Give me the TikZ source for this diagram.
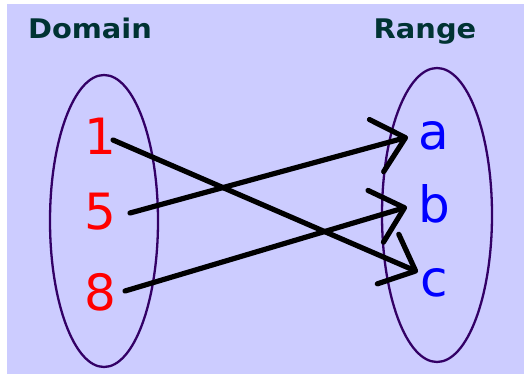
\documentclass[tikz,border=0pt]{standalone}
\usepackage{fontspec}
\setmainfont{DejaVu Sans}
\usetikzlibrary{arrows.meta}
\definecolor{lav}{HTML}{CCCCFF}
\definecolor{ring}{HTML}{330066}
\definecolor{headc}{HTML}{003333}
\tikzset{
  setring/.style={draw=ring, line width=2.3pt},
  numtxt/.style={text=red, font=\fontsize{50}{50}\selectfont, anchor=base, inner sep=0pt},
  lettxt/.style={text=blue, font=\fontsize{50}{50}\selectfont, anchor=base, inner sep=0pt},
  headtxt/.style={text=headc, font=\bfseries\fontsize{27}{27}\selectfont, anchor=base, inner sep=0pt, xscale=1.07},
  maparrow/.style={draw=black, line width=5.2pt, line cap=round,
    -{Straight Barb[length=30pt,width=54pt,round]}}
}
\begin{document}
\begin{tikzpicture}[x=1pt,y=-1pt]
\useasboundingbox (0,0) rectangle (525,374);
\fill[white] (0,0) rectangle (525,374);
\fill[lav] (7,4) rectangle (524,374);
% headings
\node[headtxt] (hdom) at (90,39) {Domain};
\node[headtxt] (hran) at (425,39) {Range};
% sets
\draw[setring] (104,221) ellipse [x radius=54, y radius=146];
\draw[setring] (437,215) ellipse [x radius=55, y radius=147];
% elements
\node[numtxt] (n1) at (100,155) {1};
\node[numtxt] (n5) at (100,230) {5};
\node[numtxt] (n8) at (100,310) {8};
\node[lettxt] (la) at (434,150) {a};
\node[lettxt] (lb) at (434,223) {b};
\node[lettxt] (lc) at (434,297) {c};
% connector ends
\coordinate (s1) at (113,140);
\coordinate (s5) at (130,213);
\coordinate (s8) at (125,291);
\coordinate (ta) at (408,137);
\coordinate (tb) at (407,207);
\coordinate (tc) at (418,272);
% mappings
\draw[maparrow] (s1) -- (tc);
\draw[maparrow] (s5) -- (ta);
\draw[maparrow] (s8) -- (tb);
\end{tikzpicture}
\end{document}
